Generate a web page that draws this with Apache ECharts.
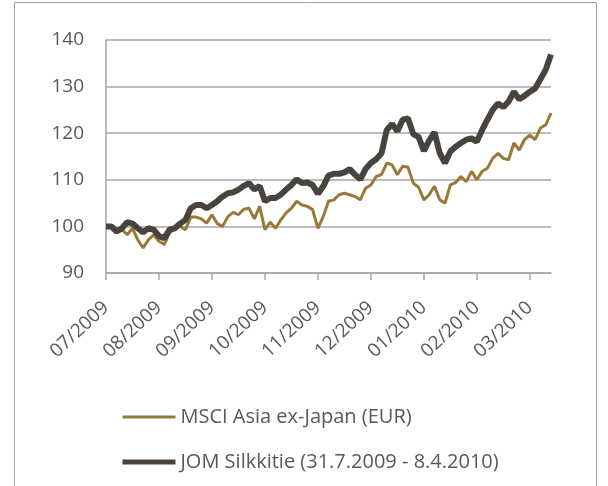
<!DOCTYPE html>
<html>
<head>
<meta charset="utf-8">
<script src="https://cdn.jsdelivr.net/npm/echarts@6/dist/echarts.min.js"></script>
<style>
  html, body { margin: 0; padding: 0; background: #fff; }
  #chart { width: 608px; height: 486px; }
</style>
</head>
<body>
<div id="chart"></div>
<script>
// kuukausien nimet akselille (yksi tikki / 10 havaintoa)
const monthLabels = ['07/2009', '08/2009', '09/2009', '10/2009', '11/2009', '12/2009', '01/2010', '02/2010', '03/2010']

const msciData = [
  100, 99.9, 98.6, 99.3, 98.2, 99.6, 97.1, 95.4, 97.1, 98.2,
  96.8, 96.1, 98.6, 99.6, 100, 99.3, 102, 102, 101.6, 100.7,
  102.5, 100.6, 100, 102.1, 103, 102.5, 103.7, 103.9, 101.6, 104.3,
  99.3, 100.9, 99.6, 101.4, 102.9, 103.9, 105.4, 104.6, 104.3, 103.6,
  99.6, 102.1, 105.4, 105.7, 106.8, 107.1, 106.8, 106.4, 105.7, 108.2,
  108.9, 110.7, 111.1, 113.6, 113.2, 111.1, 112.9, 112.7, 109.3, 108.4,
  105.7, 106.8, 108.6, 105.7, 105, 108.9, 109.4, 110.7, 109.6, 111.8,
  110, 111.8, 112.5, 114.6, 115.7, 114.6, 114.3, 117.9, 116.4, 118.6,
  119.6, 118.6, 121.1, 121.8, 124.3,
]
const jomData = [
  100, 100, 98.9, 99.6, 100.9, 100.6, 99.6, 98.7, 99.6, 99.3,
  97.9, 97.5, 99.3, 99.6, 100.6, 101.4, 103.9, 104.6, 104.6, 103.9,
  104.6, 105.4, 106.4, 107.1, 107.3, 107.9, 108.7, 109.3, 107.9, 108.7,
  105.4, 106.1, 106.1, 106.8, 107.9, 108.9, 110.1, 109.3, 109.4, 108.9,
  107, 108.6, 110.9, 111.3, 111.3, 111.6, 112.3, 111.1, 110.1, 112.3,
  113.6, 114.4, 115.7, 120.7, 122, 120.4, 122.9, 123.2, 119.8, 119.2,
  116.2, 118.4, 120.2, 115.7, 113.6, 116.1, 117.1, 117.9, 118.6, 118.9,
  118.2, 120.7, 122.9, 125, 126.4, 125.6, 126.8, 128.9, 127.3, 128,
  128.9, 129.6, 131.6, 133.6, 136.9,
]
const days = jomData.map((_, i) => String(i))

const textColor = '#595959'
const gridColor = '#a6a6a6'
const msciColor = '#98793a'
const jomColor = '#48433d'
const fontFamily = '"Open Sans", "Noto Sans", sans-serif'

const chart = echarts.init(document.getElementById('chart'))

const option = {
  animation: false,
  textStyle: { fontFamily },
  graphic: [
    {
      type: 'rect',
      shape: { x: 14.5, y: 2.5, width: 582, height: 520 },
      style: { fill: 'none', stroke: '#a0a0a0', lineWidth: 1 },
      silent: true,
    },
  ],
  grid: { left: 106, top: 40, width: 445, bottom: 213 },
  legend: {
    orient: 'vertical',
    left: 120,
    top: 407,
    padding: 0,
    itemWidth: 53,
    itemHeight: 16,
    itemGap: 25,
    itemStyle: { color: 'transparent', borderColor: 'transparent', borderWidth: 0 },
    textStyle: { color: textColor, fontSize: 20, fontFamily },
    data: [
      { name: 'MSCI Asia ex-Japan (EUR)', lineStyle: { color: msciColor, width: 3 } },
      { name: 'JOM Silkkitie (31.7.2009 - 8.4.2010)', lineStyle: { color: jomColor, width: 5 } },
    ],
  },
  xAxis: {
    type: 'category',
    data: days,
    boundaryGap: false,
    axisLine: { lineStyle: { color: gridColor, width: 1.5 } },
    axisTick: { interval: 9, length: 7, lineStyle: { color: gridColor, width: 1.5 } },
    axisLabel: {
      interval: 9,
      rotate: 43,
      margin: 32,
      color: textColor,
      fontSize: 19,
      formatter: (v, idx) => monthLabels[idx / 10] || '',
    },
    splitLine: { show: false },
  },
  yAxis: {
    type: 'value',
    min: 90,
    max: 140,
    interval: 10,
    axisLine: { show: true, lineStyle: { color: gridColor, width: 1.5 } },
    axisTick: { show: false },
    axisLabel: { color: textColor, fontSize: 19, margin: 22 },
    splitLine: { lineStyle: { color: gridColor, width: 1.5 } },
  },
  series: [
    {
      name: 'MSCI Asia ex-Japan (EUR)',
      type: 'line',
      symbol: 'none',
      lineStyle: { color: msciColor, width: 3 },
      itemStyle: { color: msciColor },
      data: msciData,
    },
    {
      name: 'JOM Silkkitie (31.7.2009 - 8.4.2010)',
      type: 'line',
      symbol: 'none',
      lineStyle: { color: jomColor, width: 6 },
      itemStyle: { color: jomColor },
      data: jomData,
    },
  ],
}

chart.setOption(option)
</script>
</body>
</html>
